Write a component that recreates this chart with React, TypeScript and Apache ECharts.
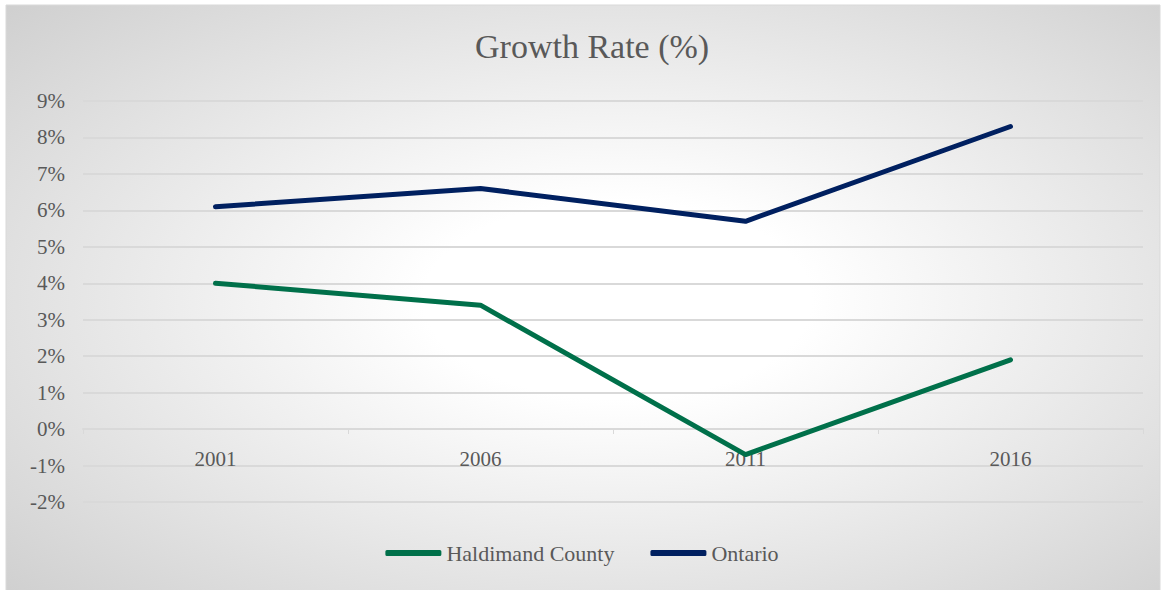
import React, { useEffect, useRef } from "react";
import * as echarts from "echarts";

const years = ["2001", "2006", "2011", "2016"];
const haldimand = [4.0, 3.4, -0.7, 1.9];
const ontario = [6.1, 6.6, 5.7, 8.3];
const seriesNames = ["Haldimand County", "Ontario"];
const chartTitle = "Growth Rate (%)";

const FONT = "'Liberation Serif', 'DejaVu Serif', serif";
const GRAY = "#595959";

export default function App() {
  const ref = useRef<HTMLDivElement>(null);
  useEffect(() => {
    if (!ref.current) return;
    const chart = echarts.init(ref.current, undefined, { renderer: "svg" });
    chart.setOption({
      animation: false,
      backgroundColor: "#ffffff",
      graphic: [
        {
          type: "rect",
          z: -10,
          silent: true,
          shape: { x: 6, y: 5, width: 1154, height: 590 },
          style: {
            fill: new echarts.graphic.RadialGradient(0.53, 0.5, 1.05, [
              { offset: 0, color: "#ffffff" },
              { offset: 0.16, color: "#ffffff" },
              { offset: 1, color: "#b4b4b4" },
            ]),
            stroke: "#d9d9d9",
            lineWidth: 1,
          },
        },
      ],
      title: {
        text: chartTitle,
        left: 470,
        top: 24,
        textStyle: { fontFamily: FONT, fontSize: 34, fontWeight: "normal", color: GRAY },
      },
      legend: {
        data: seriesNames,
        left: "center",
        top: 537,
        icon: "roundRect",
        itemWidth: 56,
        itemHeight: 6,
        itemGap: 36,
        textStyle: { fontFamily: FONT, fontSize: 22, color: GRAY },
      },
      grid: { left: 83, right: 21, top: 101, bottom: 88, containLabel: false },
      xAxis: {
        type: "category",
        data: years,
        boundaryGap: true,
        offset: -73,
        axisLine: { onZero: false, lineStyle: { color: "#d9d9d9", width: 2 } },
        axisTick: { show: true, length: 5, lineStyle: { color: "#d9d9d9", width: 1 } },
        axisLabel: { margin: 19, fontFamily: FONT, fontSize: 21, color: GRAY },
        splitLine: { show: false },
      },
      yAxis: {
        type: "value",
        min: -2,
        max: 9,
        interval: 1,
        axisLine: { show: false },
        axisTick: { show: false },
        axisLabel: { formatter: "{value}%", margin: 18, fontFamily: FONT, fontSize: 21, color: GRAY },
        splitLine: { lineStyle: { color: "#d9d9d9", width: 2 } },
      },
      series: [
        {
          name: seriesNames[0],
          type: "line",
          data: haldimand,
          symbol: "none",
          lineStyle: { color: "#00704a", width: 5, cap: "round", join: "round" },
          itemStyle: { color: "#00704a" },
        },
        {
          name: seriesNames[1],
          type: "line",
          data: ontario,
          symbol: "none",
          lineStyle: { color: "#002060", width: 5, cap: "round", join: "round" },
          itemStyle: { color: "#002060" },
        },
      ],
    });
    return () => chart.dispose();
  }, []);
  return (
    <div
      ref={ref}
      style={{ position: "fixed", left: 0, top: 0, width: 1164, height: 590 }}
    />
  );
}
